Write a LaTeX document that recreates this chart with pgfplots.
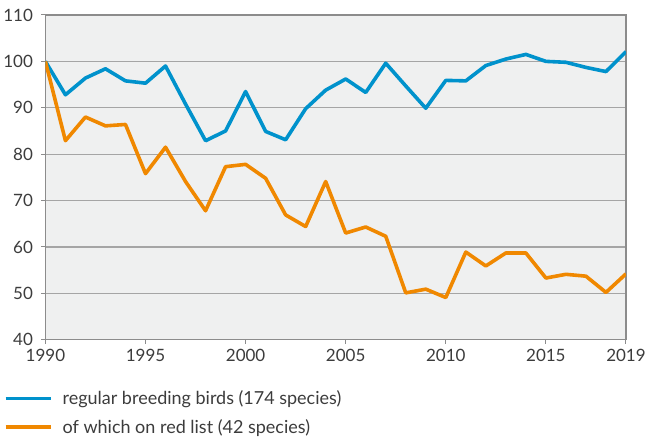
\documentclass[border=0pt]{standalone}
\usepackage{fontspec}
\setmainfont{Lato}
\usepackage{pgfplots}
\pgfplotsset{compat=1.18}
\definecolor{BirdBlue}  {RGB}{  0,146,204}
\definecolor{RedOrange} {RGB}{240,136,  0}
\definecolor{PlotBg}    {RGB}{239,240,240}
\definecolor{GridGray}  {RGB}{165,165,165}
\definecolor{TextGray}  {RGB}{ 60, 60, 60}

\pgfplotstableread{
year all red
1990 100.0 100.0
1991  92.8  82.9
1992  96.4  88.0
1993  98.4  86.1
1994  95.8  86.4
1995  95.3  75.8
1996  99.0  81.5
1997  90.8  74.1
1998  82.9  67.8
1999  85.0  77.3
2000  93.5  77.8
2001  84.9  74.8
2002  83.1  66.9
2003  89.8  64.4
2004  93.8  74.1
2005  96.2  63.0
2006  93.3  64.3
2007  99.6  62.3
2008  94.7  50.1
2009  89.9  50.9
2010  95.9  49.1
2011  95.8  58.9
2012  99.1  55.9
2013 100.5  58.7
2014 101.5  58.7
2015 100.0  53.3
2016  99.8  54.1
2017  98.7  53.7
2018  97.8  50.2
2019 102.1  54.2
}\birds

\begin{document}
\begin{tikzpicture}
\begin{axis}[
    scale only axis,
    width=581pt,
    height=325pt,
    xmin=1990, xmax=2019,
    ymin=40, ymax=110,
    xtick={1990,1995,...,2015,2019},
    ytick={40,50,...,110},
    /pgf/number format/1000 sep={},
    /pgf/number format/assume math mode=true,
    font=\fontsize{17}{20}\selectfont,
    tick label style={color=TextGray},
    axis background/.style={fill=PlotBg},
    axis line style={draw=GridGray!85!black, line width=1.5pt},
    tick style={draw=GridGray!85!black, line width=1pt},
    tick align=outside,
    major tick length=4pt,
    xtick pos=bottom,
    ytick pos=left,
    ymajorgrids,
    major grid style={draw=GridGray, line width=1.2pt},
    xticklabel style={yshift=-2pt},
    yticklabel style={xshift=-5pt},
    legend style={
        at={(0,0)}, anchor=north west,
        xshift=-42pt, yshift=-49pt,
        draw=none, fill=none,
        font=\fontsize{18}{21}\selectfont\color{TextGray},
        row sep=9pt,
        inner sep=0pt,
        nodes={inner sep=2pt, text depth=0.25ex},
        legend cell align=left,
    },
    legend image code/.code={
        \draw[#1, line width=4pt] (0pt,0pt) -- (45pt,0pt);
    },
]
\addplot[color=BirdBlue, line width=3.6pt, line join=round] table[x=year, y=all] {\birds};
\addlegendentry{\hspace{8pt}regular breeding birds (174 species)}
\addplot[color=RedOrange, line width=3.6pt, line join=round] table[x=year, y=red] {\birds};
\addlegendentry{\hspace{8pt}of which on red list (42 species)}
\end{axis}
% a little white margin above the top tick label, as in the reference
\path ([yshift=15pt]current axis.north);
\end{tikzpicture}
\end{document}
